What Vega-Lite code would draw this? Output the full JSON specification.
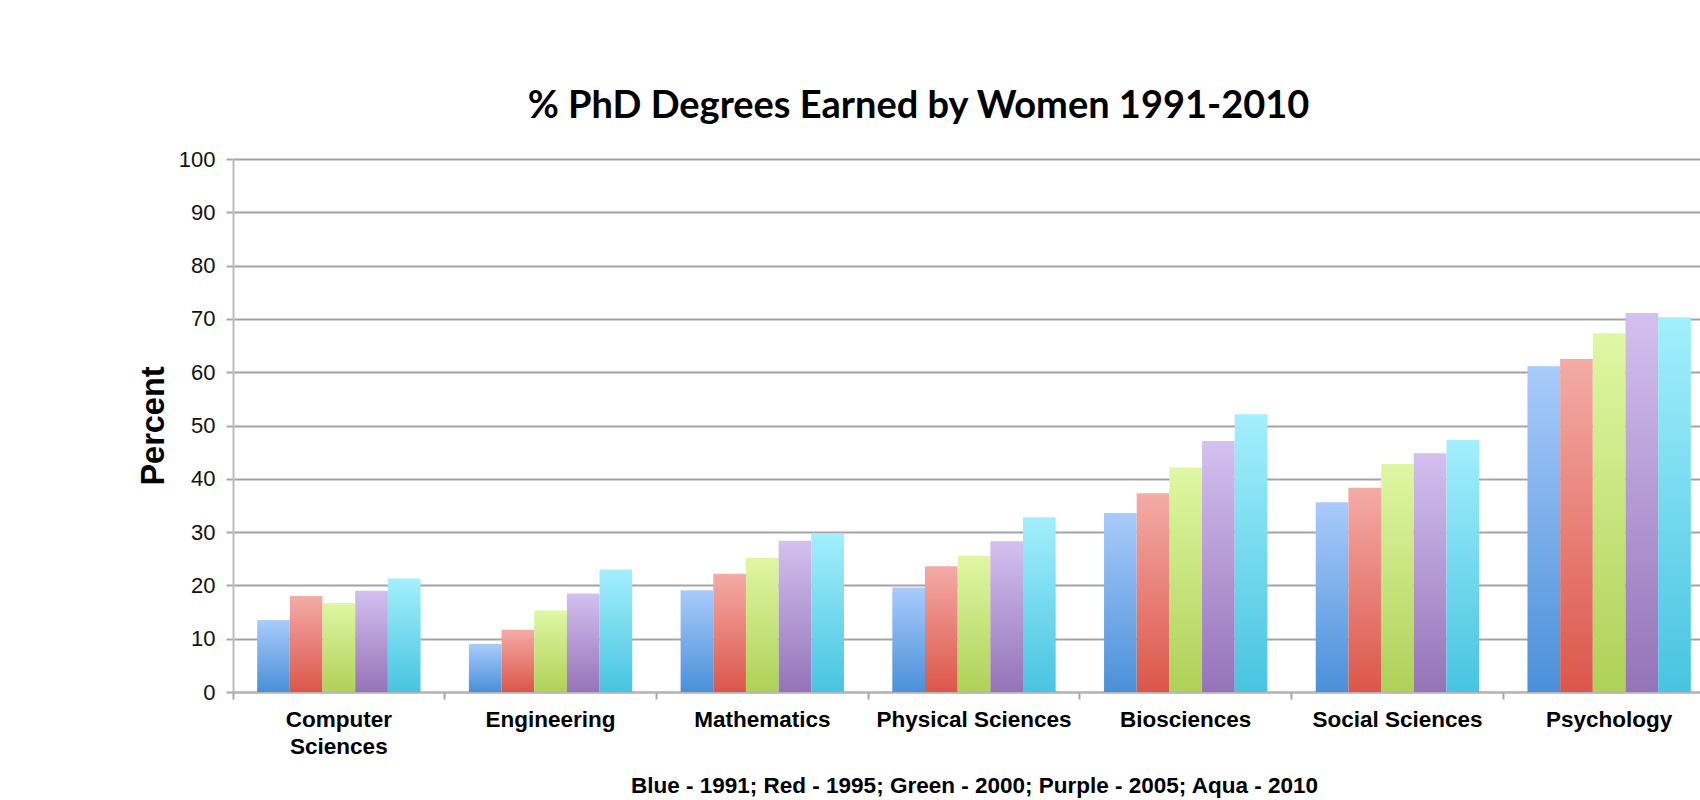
{
  "$schema": "https://vega.github.io/schema/vega-lite/v6.json",
  "width": 1467,
  "height": 533,
  "autosize": "none",
  "padding": {"left": 233, "top": 159, "right": 0, "bottom": 108},
  "background": "#ffffff",
  "view": {"stroke": null},
  "title": {
    "text": "% PhD Degrees Earned by Women 1991-2010",
    "font": "Lato",
    "fontSize": 38,
    "fontWeight": "bold",
    "color": "#000000",
    "anchor": "middle",
    "dx": -48,
    "offset": 22
  },
  "data": {
    "values": [
      {"subject": "Computer Sciences", "year": "1991", "value": 13.5},
      {"subject": "Computer Sciences", "year": "1995", "value": 18.0},
      {"subject": "Computer Sciences", "year": "2000", "value": 16.7},
      {"subject": "Computer Sciences", "year": "2005", "value": 19.0},
      {"subject": "Computer Sciences", "year": "2010", "value": 21.3},
      {"subject": "Engineering", "year": "1991", "value": 9.0},
      {"subject": "Engineering", "year": "1995", "value": 11.7},
      {"subject": "Engineering", "year": "2000", "value": 15.3},
      {"subject": "Engineering", "year": "2005", "value": 18.5},
      {"subject": "Engineering", "year": "2010", "value": 23.0},
      {"subject": "Mathematics", "year": "1991", "value": 19.1},
      {"subject": "Mathematics", "year": "1995", "value": 22.2},
      {"subject": "Mathematics", "year": "2000", "value": 25.2},
      {"subject": "Mathematics", "year": "2005", "value": 28.4},
      {"subject": "Mathematics", "year": "2010", "value": 29.8},
      {"subject": "Physical Sciences", "year": "1991", "value": 19.6},
      {"subject": "Physical Sciences", "year": "1995", "value": 23.6},
      {"subject": "Physical Sciences", "year": "2000", "value": 25.5},
      {"subject": "Physical Sciences", "year": "2005", "value": 28.3},
      {"subject": "Physical Sciences", "year": "2010", "value": 32.8},
      {"subject": "Biosciences", "year": "1991", "value": 33.6},
      {"subject": "Biosciences", "year": "1995", "value": 37.3},
      {"subject": "Biosciences", "year": "2000", "value": 42.1},
      {"subject": "Biosciences", "year": "2005", "value": 47.1},
      {"subject": "Biosciences", "year": "2010", "value": 52.1},
      {"subject": "Social Sciences", "year": "1991", "value": 35.6},
      {"subject": "Social Sciences", "year": "1995", "value": 38.3},
      {"subject": "Social Sciences", "year": "2000", "value": 42.8},
      {"subject": "Social Sciences", "year": "2005", "value": 44.8},
      {"subject": "Social Sciences", "year": "2010", "value": 47.3},
      {"subject": "Psychology", "year": "1991", "value": 61.1},
      {"subject": "Psychology", "year": "1995", "value": 62.5},
      {"subject": "Psychology", "year": "2000", "value": 67.3},
      {"subject": "Psychology", "year": "2005", "value": 71.1},
      {"subject": "Psychology", "year": "2010", "value": 70.3}
    ]
  },
  "encoding": {
    "x": {
      "field": "subject",
      "type": "nominal",
      "scale": {
        "domain": ["Computer Sciences", "Engineering", "Mathematics", "Physical Sciences", "Biosciences", "Social Sciences", "Psychology"],
        "range": [0, 1482],
        "paddingInner": 0,
        "paddingOuter": 0
      },
      "axis": {
        "title": "Blue - 1991; Red - 1995; Green - 2000; Purple - 2005; Aqua - 2010",
        "titleFont": "Liberation Sans",
        "titleFontSize": 22.5,
        "titleFontWeight": "bold",
        "titleColor": "#000000",
        "titlePadding": 17,
        "labelAngle": 0,
        "labelFont": "Liberation Sans",
        "labelFontSize": 22.5,
        "labelFontWeight": "bold",
        "labelColor": "#000000",
        "labelLineHeight": 27,
        "labelPadding": 9,
        "labelLimit": 0,
        "labelExpr": "datum.label == 'Computer Sciences' ? ['Computer', 'Sciences'] : datum.label",
        "bandPosition": 0,
        "labelOffset": 0,
        "tickSize": 7,
        "tickWidth": 2,
        "tickColor": "#a8a8a8",
        "domainColor": "#b5b5b5",
        "domainWidth": 2,
        "grid": false
      }
    },
    "xOffset": {
      "field": "year",
      "type": "nominal",
      "scale": {"domain": ["1991", "1995", "2000", "2005", "2010"], "paddingInner": 0, "paddingOuter": 0.74}
    },
    "y": {
      "field": "value",
      "type": "quantitative",
      "scale": {"domain": [0, 100], "nice": false},
      "axis": {
        "title": "Percent",
        "titleFont": "Liberation Sans",
        "titleFontSize": 32.5,
        "titleFontWeight": "bold",
        "titleColor": "#000000",
        "titlePadding": 8,
        "values": [0, 10, 20, 30, 40, 50, 60, 70, 80, 90, 100],
        "labelFont": "Liberation Sans",
        "labelFontSize": 22,
        "labelColor": "#111111",
        "labelPadding": 11,
        "tickSize": 7,
        "tickWidth": 2,
        "tickColor": "#a8a8a8",
        "domainColor": "#bdbdbd",
        "domainWidth": 2,
        "grid": true,
        "gridColor": "#a4a4a4",
        "gridWidth": 2
      }
    }
  },
  "layer": [
    {
      "transform": [{"filter": "datum.year === '1991'"}],
      "mark": {"type": "bar", "fill": {"gradient": "linear", "x1": 0, "y1": 0, "x2": 0, "y2": 1, "stops": [{"offset": 0, "color": "#a9cbfb"}, {"offset": 1, "color": "#4a90d9"}]}}
    },
    {
      "transform": [{"filter": "datum.year === '1995'"}],
      "mark": {"type": "bar", "fill": {"gradient": "linear", "x1": 0, "y1": 0, "x2": 0, "y2": 1, "stops": [{"offset": 0, "color": "#f4aba6"}, {"offset": 1, "color": "#dc564a"}]}}
    },
    {
      "transform": [{"filter": "datum.year === '2000'"}],
      "mark": {"type": "bar", "fill": {"gradient": "linear", "x1": 0, "y1": 0, "x2": 0, "y2": 1, "stops": [{"offset": 0, "color": "#dff7a3"}, {"offset": 1, "color": "#aed158"}]}}
    },
    {
      "transform": [{"filter": "datum.year === '2005'"}],
      "mark": {"type": "bar", "fill": {"gradient": "linear", "x1": 0, "y1": 0, "x2": 0, "y2": 1, "stops": [{"offset": 0, "color": "#d3c0f0"}, {"offset": 1, "color": "#9573b8"}]}}
    },
    {
      "transform": [{"filter": "datum.year === '2010'"}],
      "mark": {"type": "bar", "fill": {"gradient": "linear", "x1": 0, "y1": 0, "x2": 0, "y2": 1, "stops": [{"offset": 0, "color": "#a3effd"}, {"offset": 1, "color": "#48c4e0"}]}}
    }
  ]
}
